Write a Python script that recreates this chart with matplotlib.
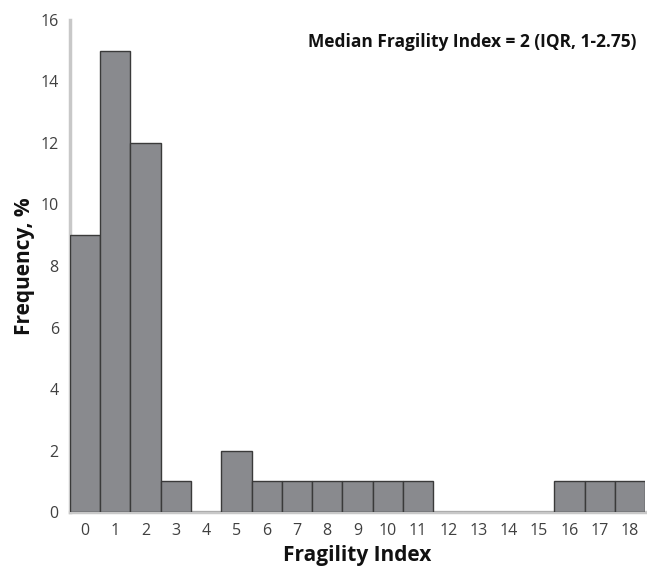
import matplotlib
matplotlib.use("Agg")
import matplotlib.pyplot as plt

categories = [str(i) for i in range(19)]
values = [9, 15, 12, 1, 0, 2, 1, 1, 1, 1, 1, 1, 0, 0, 0, 0, 1, 1, 1]
yticks = [0, 2, 4, 6, 8, 10, 12, 14, 16]

plt.rcParams['font.family'] = ['Open Sans', 'DejaVu Sans']

fig = plt.figure(figsize=(6.47, 5.69), dpi=100)
ax = fig.add_axes([0.108, 0.100, 0.889, 0.865])

x = list(range(len(categories)))
ax.bar(x, values, width=1.0, color='#898a8e', edgecolor='#3a3a3a', linewidth=1.0, zorder=3)

ax.set_xlim(-0.5, 18.5)
ax.set_ylim(0, 16)
ax.set_xticks(x)
ax.set_xticklabels(categories)
ax.set_yticks(yticks)
ax.tick_params(axis='both', length=0, labelsize=11.5, colors='#404040', pad=8)

for s in ['top', 'right']:
    ax.spines[s].set_visible(False)
ax.spines['left'].set_color('#c8c8c8')
ax.spines['left'].set_linewidth(2.5)
ax.spines['bottom'].set_color('#c8c8c8')
ax.spines['bottom'].set_linewidth(2.5)

ax.set_xlabel('Fragility Index', fontsize=15, fontweight='bold', color='#111111', labelpad=4)
ax.set_ylabel('Frequency, %', fontsize=15, fontweight='bold', color='#111111', labelpad=4)

ax.text(0.985, 0.955, 'Median Fragility Index = 2 (IQR, 1-2.75)', transform=ax.transAxes,
        ha='right', va='center', fontsize=12.5, fontweight='bold', color='#111111')

fig.savefig('out.png', dpi=100)
